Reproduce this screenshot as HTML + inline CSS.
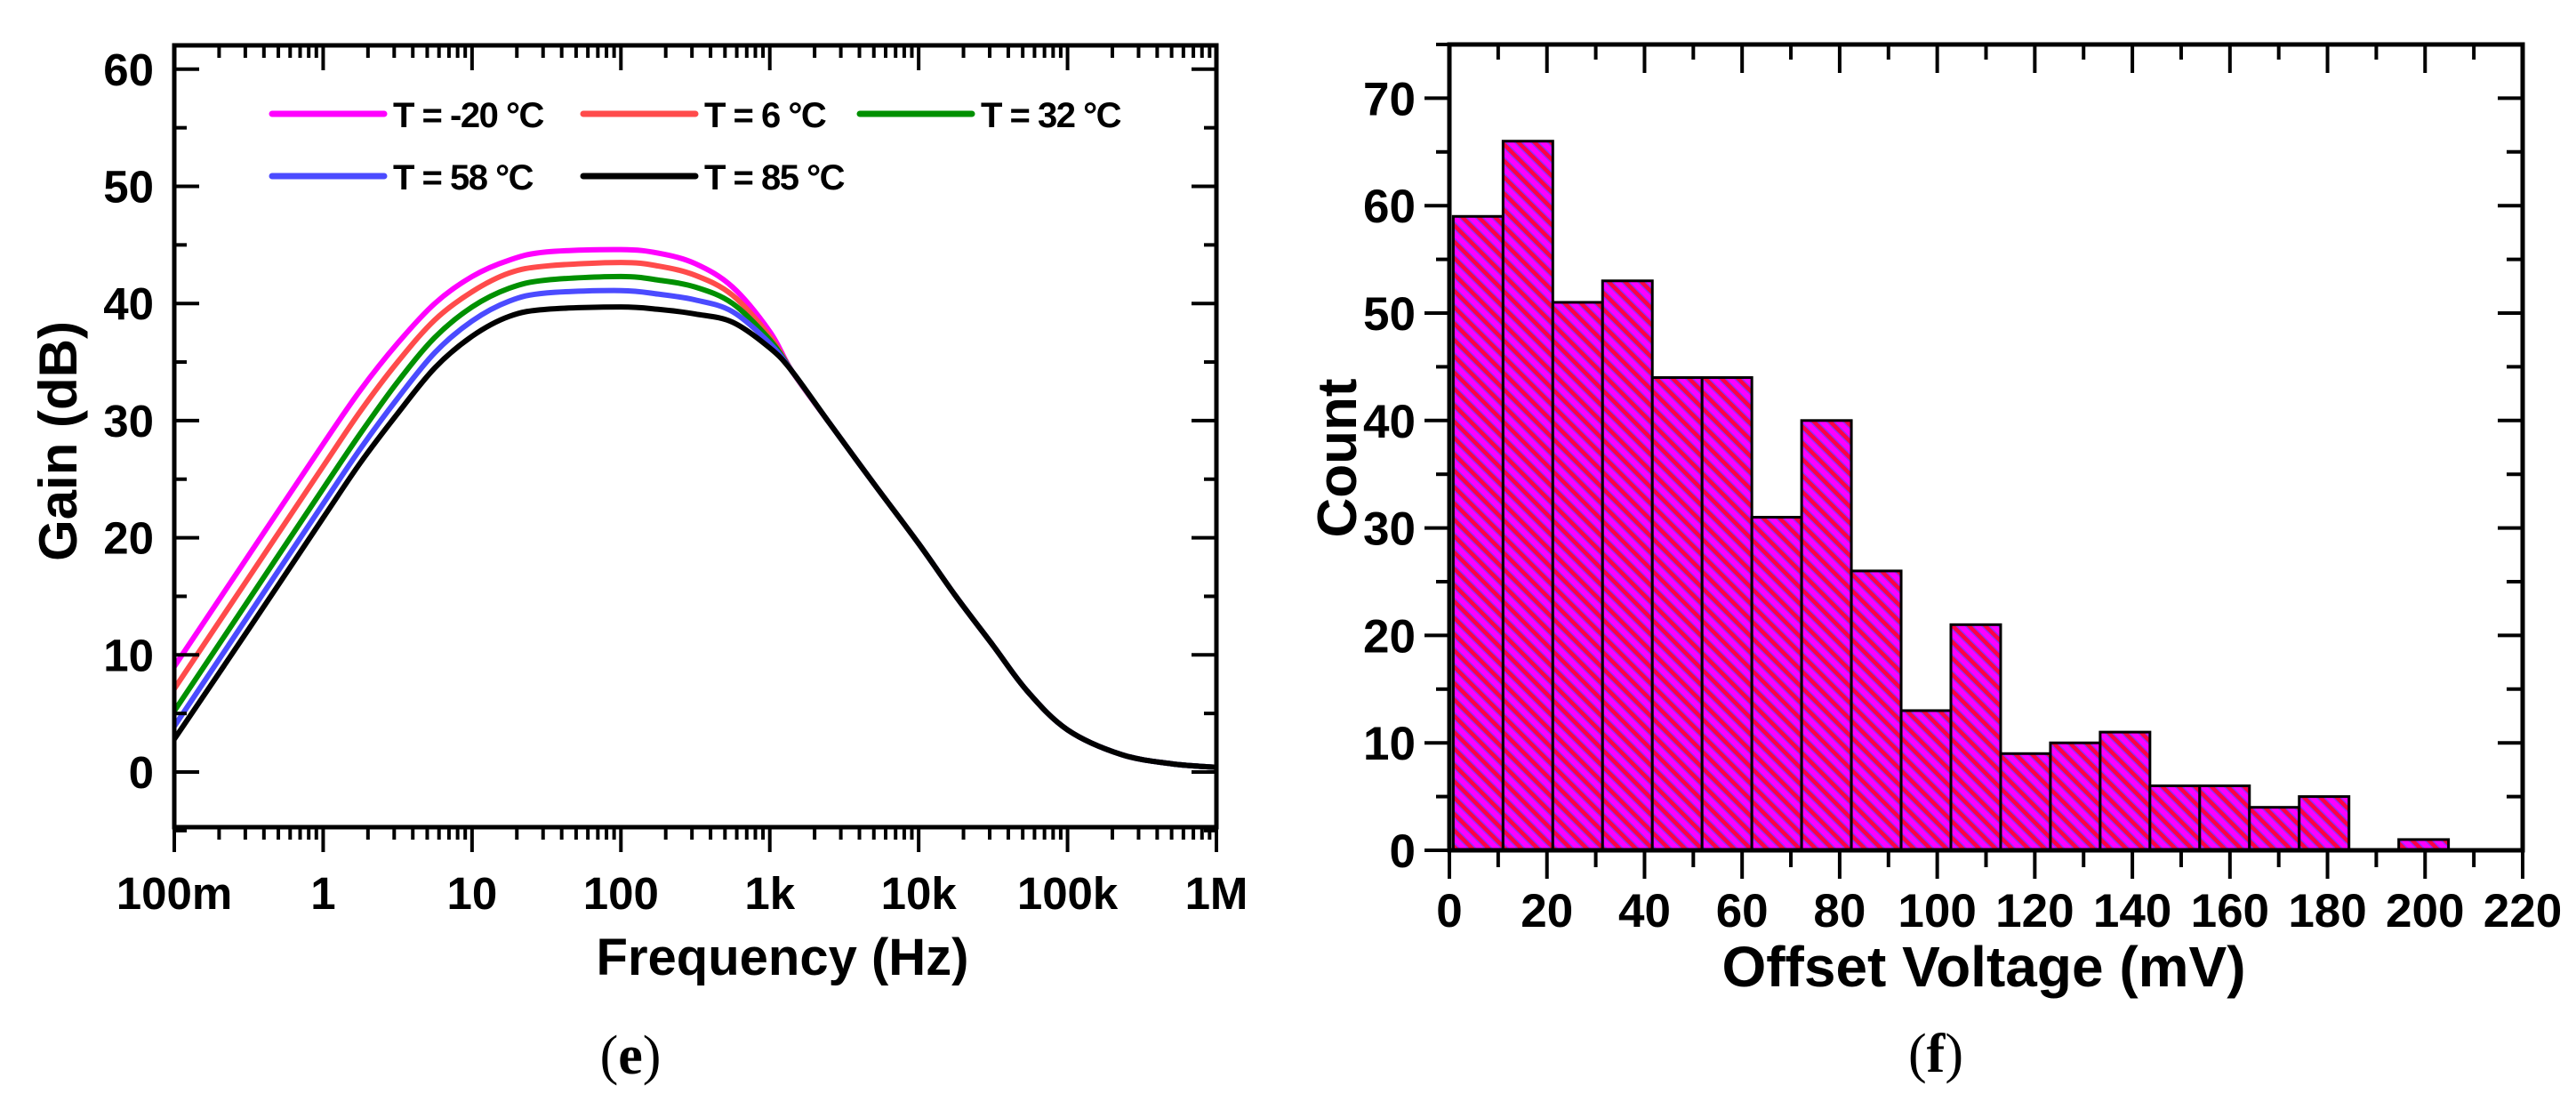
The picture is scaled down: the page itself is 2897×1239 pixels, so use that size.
<!DOCTYPE html>
<html><head><meta charset="utf-8"><style>
html,body{margin:0;padding:0;background:#fff;}
svg{display:block;}
text{font-family:"Liberation Sans",sans-serif;font-weight:bold;fill:#000;}
</style></head><body>
<svg id="fig" width="2897" height="1239" viewBox="0 0 2897 1239" xmlns="http://www.w3.org/2000/svg">
<defs>
<pattern id="hatch" patternUnits="userSpaceOnUse" width="13" height="13" patternTransform="rotate(-45)">
<rect x="0" y="0" width="13" height="13" fill="#ff00ff"/>
<rect x="0" y="0" width="4.5" height="13" fill="#ff0044"/>
<rect x="4.5" y="0" width="1.4" height="13" fill="#8a30ff"/>
<rect x="11.6" y="0" width="1.4" height="13" fill="#8a30ff"/>
</pattern>
</defs>
<g id="left"></g>
<g id="right"></g>
<text x="709" y="1207" text-anchor="middle" style="font-family:'Liberation Serif',serif;font-size:62px;font-weight:normal">(<tspan style="font-weight:bold">e</tspan>)</text>
<text x="2177" y="1205" text-anchor="middle" style="font-family:'Liberation Serif',serif;font-size:62px;font-weight:normal">(<tspan style="font-weight:bold">f</tspan>)</text>
</svg>
<script>
// ---------- Gain chart data ----------
const logFreq = [-1,-0.5,0,0.25,0.5,0.75,1,1.25,1.5,2,2.25,2.5,2.75,3,3.15,3.4,3.7,4,4.25,4.5,4.73,5,5.36,5.7,6];
const gainM20 = [9,18.5,28,32.6,36.6,40.0,42.3,43.7,44.4,44.6,44.3,43.4,41.4,37.6,34.2,29.8,24.6,19.5,15.0,10.8,6.9,3.6,1.5,0.7,0.4];
const gain6   = [7.1,16.6,26.1,30.8,35.0,38.6,41.0,42.6,43.2,43.5,43.2,42.4,40.7,37.2,34.2,29.8,24.6,19.5,15.0,10.8,6.9,3.6,1.5,0.7,0.4];
const gain32  = [5.2,14.7,24.2,28.9,33.3,37.1,39.7,41.3,42.0,42.3,42.0,41.4,40.0,36.9,34.2,29.8,24.6,19.5,15.0,10.8,6.9,3.6,1.5,0.7,0.4];
const gain58  = [3.9,13.4,22.9,27.6,31.9,35.8,38.5,40.2,40.9,41.1,40.8,40.3,39.3,36.6,34.2,29.8,24.6,19.5,15.0,10.8,6.9,3.6,1.5,0.7,0.4];
const gain85  = [2.8,12.2,21.7,26.4,30.6,34.5,37.2,38.9,39.5,39.7,39.5,39.1,38.4,36.2,34.2,29.8,24.6,19.5,15.0,10.8,6.9,3.6,1.5,0.7,0.4];
const seriesNames = ["T = -20 \u00B0C","T = 6 \u00B0C","T = 32 \u00B0C","T = 58 \u00B0C","T = 85 \u00B0C"];
const xTickLabels = ["100m","1","10","100","1k","10k","100k","1M"];
const yTickLabels = ["0","10","20","30","40","50","60"];
// ---------- Histogram data ----------
const binStart = 0.8;
const binWidth = 10.2;
const counts = [59,66,51,53,44,44,31,40,26,13,21,9,10,11,6,6,4,5,0,1];
const hxTickLabels = ["0","20","40","60","80","100","120","140","160","180","200","220"];
const hyTickLabels = ["0","10","20","30","40","50","60","70"];

const NS="http://www.w3.org/2000/svg";
function mk(tag,attrs,parent){const e=document.createElementNS(NS,tag);for(const k in attrs)e.setAttribute(k,attrs[k]);parent.appendChild(e);return e;}

// ===== Left chart =====
(function(){
const g=document.getElementById('left');
const L=196,R=1368,T=51,B=930;
const xmin=-1,xmax=6;
const X=v=>L+(v-xmin)/(xmax-xmin)*(R-L);
const Y=v=>868-v*13.17;
const colors=["#ff00ff","#ff4b4b","#009000","#4b4bff","#000000"];
const data=[gainM20,gain6,gain32,gain58,gain85];
const cg=mk('g',{},g);


for(let s=0;s<data.length;s++){
  const pts=logFreq.map((v,i)=>[X(v),Y(data[s][i])]);
  let d="M"+pts[0][0]+","+pts[0][1];
  for(let i=0;i<pts.length-1;i++){
    const p0=pts[Math.max(0,i-1)],p1=pts[i],p2=pts[i+1],p3=pts[Math.min(pts.length-1,i+2)];
    const c1=[p1[0]+(p2[0]-p0[0])/6,p1[1]+(p2[1]-p0[1])/6];
    const c2=[p2[0]-(p3[0]-p1[0])/6,p2[1]-(p3[1]-p1[1])/6];
    d+=` C${c1[0]},${c1[1]} ${c2[0]},${c2[1]} ${p2[0]},${p2[1]}`;
  }
  const p=mk('path',{d:d,fill:'none',stroke:colors[s],'stroke-width':6,'stroke-linejoin':'round'},cg);
  
  
}
const fr=mk('rect',{x:L,y:T,width:R-L,height:B-T,fill:'none',stroke:'#000','stroke-width':5},g);


for(let dec=-1;dec<6;dec++){
  for(let m=1;m<=9;m++){
    const v=dec+Math.log10(m);const x=X(v);const len=m===1?28:14;
    mk('line',{x1:x,y1:B,x2:x,y2:B+len,stroke:'#000','stroke-width':4},g);
    mk('line',{x1:x,y1:T,x2:x,y2:T+len,stroke:'#000','stroke-width':4},g);
  }
}
mk('line',{x1:R,y1:B,x2:R,y2:B+28,stroke:'#000','stroke-width':4},g);
mk('line',{x1:R,y1:T,x2:R,y2:T+28,stroke:'#000','stroke-width':4},g);
xTickLabels.forEach((t,i)=>{
  const e=mk('text',{x:X(xmin+i),y:1022,'text-anchor':'middle','font-size':51},g);
  e.textContent=t;
  
  
});
for(let v=-5;v<=60;v+=5){
  const y=Y(v);const len=v%10===0?28:14;
  mk('line',{x1:L,y1:y,x2:L+len,y2:y,stroke:'#000','stroke-width':4},g);
  mk('line',{x1:R,y1:y,x2:R-len,y2:y,stroke:'#000','stroke-width':4},g);
}
yTickLabels.forEach((t,i)=>{
  const e=mk('text',{x:173,y:Y(i*10)+18,'text-anchor':'end','font-size':51},g);
  e.textContent=t;
  
  
});
const xt=mk('text',{x:880,y:1096,'text-anchor':'middle','font-size':58},g);
xt.textContent="Frequency (Hz)";


const yt=mk('text',{x:0,y:0,'text-anchor':'middle','font-size':60,transform:'translate(86,496) rotate(-90)'},g);
yt.textContent="Gain (dB)";


const lg=mk('g',{},g);


const pos=[[306,128],[656,128],[967,128],[306,198],[656,198]];
seriesNames.forEach((n,i)=>{
  const [x,y]=pos[i];
  const en=mk('g',{},lg);
  
  
  mk('line',{x1:x,y1:y,x2:x+126,y2:y,stroke:colors[i],'stroke-width':7,'stroke-linecap':'round'},en);
  const t=mk('text',{x:x+136,y:y+15,'font-size':40,style:'letter-spacing:-1.5px'},en);
  t.textContent=n;
});
})();

// ===== Histogram =====
(function(){
const g=document.getElementById('right');
const L=1630,R=2837,T=50,B=956;
const X=v=>L+v/220*(R-L);
const Y=v=>B-v*12.08;
const bg=mk('g',{},g);


counts.forEach((c,i)=>{
  if(c<=0) return;
  const x0=X(binStart+i*binWidth),x1=X(binStart+(i+1)*binWidth);
  const r=mk('rect',{x:x0,y:Y(c),width:x1-x0,height:B-Y(c),fill:'url(#hatch)',stroke:'#000','stroke-width':3},bg);
  
  
});
const fr=mk('rect',{x:L,y:T,width:R-L,height:B-T,fill:'none',stroke:'#000','stroke-width':5},g);


for(let v=0;v<=220;v+=10){
  const x=X(v);const maj=v%20===0;
  mk('line',{x1:x,y1:B,x2:x,y2:B+(maj?32:19),stroke:'#000','stroke-width':4},g);
  mk('line',{x1:x,y1:T,x2:x,y2:T+(maj?32:17),stroke:'#000','stroke-width':4},g);
}
hxTickLabels.forEach((t,i)=>{
  const e=mk('text',{x:X(i*20),y:1042,'text-anchor':'middle','font-size':53},g);
  e.textContent=t;
  
  
});
for(let v=0;v<=75;v+=5){
  const y=Y(v);const maj=v%10===0;
  mk('line',{x1:L,y1:y,x2:L-(maj?28:15),y2:y,stroke:'#000','stroke-width':4},g);
  mk('line',{x1:R,y1:y,x2:R-(maj?28:18),y2:y,stroke:'#000','stroke-width':4},g);
}
hyTickLabels.forEach((t,i)=>{
  const e=mk('text',{x:1592,y:Y(i*10)+19,'text-anchor':'end','font-size':53},g);
  e.textContent=t;
  
  
});
const xt=mk('text',{x:2231,y:1109,'text-anchor':'middle','font-size':64},g);
xt.textContent="Offset Voltage (mV)";


const yt=mk('text',{x:0,y:0,'text-anchor':'middle','font-size':62,transform:'translate(1525,515) rotate(-90)'},g);
yt.textContent="Count";


})();
</script>
</body></html>
